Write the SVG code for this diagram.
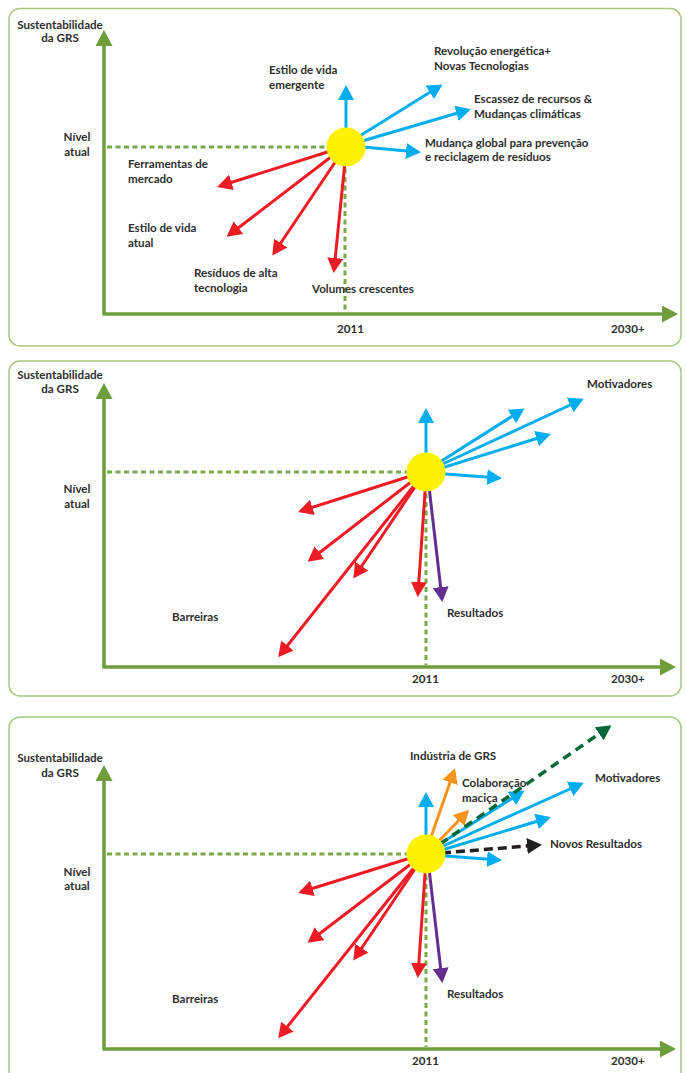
<svg xmlns="http://www.w3.org/2000/svg" width="686" height="1073" viewBox="0 0 686 1073">
  <style>
    .frame { fill: #ffffff; stroke: #a6c97e; stroke-width: 1.5; }
    .axis { stroke: #6e9e3b; stroke-width: 3.5; fill: none; }
    .guide { stroke: #78aa45; stroke-width: 3; stroke-dasharray: 5 3.5; fill: none; }
    .lbl { font-family: Lato, "Open Sans", "Liberation Sans", sans-serif; font-weight: bold; font-size: 11.6px; fill: #2e2e2e; }
    .mid { text-anchor: middle; }
    .hub { fill: #fff200; }
    .red { stroke: #ed1c24; stroke-width: 3; marker-end: url(#ah-red); }
    .blue { stroke: #00aeef; stroke-width: 3; marker-end: url(#ah-blue); }
    .purple { stroke: #662d91; stroke-width: 3; marker-end: url(#ah-purple); }
    .orange { stroke: #f7941d; stroke-width: 3; marker-end: url(#ah-orange); }
    .dkgreen { stroke: #006838; stroke-width: 3.5; stroke-dasharray: 9 6; marker-end: url(#ah-dkgreen); }
    .black { stroke: #231f20; stroke-width: 3.5; stroke-dasharray: 9 5; marker-end: url(#ah-black); }
  </style>
  <defs>
    <marker id="ah-axis" viewBox="0 0 16 17" markerWidth="16" markerHeight="17" refX="12" refY="8.5" orient="auto" markerUnits="userSpaceOnUse"><path d="M0,0 L16,8.5 L0,17 z" fill="#6e9e3b"/></marker>
    <marker id="ah-red" viewBox="0 0 15 16" markerWidth="15" markerHeight="16" refX="12" refY="8" orient="auto" markerUnits="userSpaceOnUse"><path d="M0,0 L15,8 L0,16 z" fill="#ed1c24"/></marker>
    <marker id="ah-blue" viewBox="0 0 15 16" markerWidth="15" markerHeight="16" refX="12" refY="8" orient="auto" markerUnits="userSpaceOnUse"><path d="M0,0 L15,8 L0,16 z" fill="#00aeef"/></marker>
    <marker id="ah-purple" viewBox="0 0 15 16" markerWidth="15" markerHeight="16" refX="12" refY="8" orient="auto" markerUnits="userSpaceOnUse"><path d="M0,0 L15,8 L0,16 z" fill="#662d91"/></marker>
    <marker id="ah-orange" viewBox="0 0 15 16" markerWidth="15" markerHeight="16" refX="12" refY="8" orient="auto" markerUnits="userSpaceOnUse"><path d="M0,0 L15,8 L0,16 z" fill="#f7941d"/></marker>
    <marker id="ah-dkgreen" viewBox="0 0 15 16" markerWidth="15" markerHeight="16" refX="12" refY="8" orient="auto" markerUnits="userSpaceOnUse"><path d="M0,0 L15,8 L0,16 z" fill="#006838"/></marker>
    <marker id="ah-black" viewBox="0 0 15 16" markerWidth="15" markerHeight="16" refX="12" refY="8" orient="auto" markerUnits="userSpaceOnUse"><path d="M0,0 L15,8 L0,16 z" fill="#231f20"/></marker>
  </defs>

  <!-- ===== Chart 1: current state ===== -->
  <g id="chart1">
    <rect class="frame" x="9" y="8.5" width="672" height="337.5" rx="11"/>
    <g id="chart1-axes">
      <line class="axis" x1="104" y1="314" x2="104" y2="34" marker-end="url(#ah-axis)"/>
      <line class="axis" x1="102.5" y1="314" x2="674" y2="314" marker-end="url(#ah-axis)"/>
      <line class="guide" x1="107" y1="147" x2="330" y2="147"/>
      <line class="guide" x1="345" y1="160" x2="345" y2="312"/>
    </g>
    <g id="chart1-connectors">
      <line class="blue" x1="346" y1="140" x2="346" y2="88"/>
      <line class="blue" x1="350" y1="142" x2="440" y2="86"/>
      <line class="blue" x1="352" y1="144" x2="468" y2="110"/>
      <line class="blue" x1="352" y1="146" x2="418" y2="152"/>
      <line class="red" x1="340" y1="148" x2="220" y2="186"/>
      <line class="red" x1="340" y1="150" x2="229" y2="235"/>
      <line class="red" x1="342" y1="152" x2="274" y2="253"/>
      <line class="red" x1="346" y1="152" x2="334" y2="270"/>
    </g>
    <g id="chart1-hub"><circle class="hub" cx="346" cy="147" r="19.5"/></g>
    <g id="chart1-labels">
      <text class="lbl mid" x="60" y="29">Sustentabilidade</text>
      <text class="lbl mid" x="60" y="42">da GRS</text>
      <text class="lbl mid" x="77" y="141">Nível</text>
      <text class="lbl mid" x="77" y="156">atual</text>
      <text class="lbl" x="269" y="74">Estilo de vida</text>
      <text class="lbl" x="269" y="89">emergente</text>
      <text class="lbl" x="434" y="55">Revolução energética+</text>
      <text class="lbl" x="434" y="70">Novas Tecnologias</text>
      <text class="lbl" x="474" y="103">Escassez de recursos &amp;</text>
      <text class="lbl" x="474" y="118">Mudanças climáticas</text>
      <text class="lbl" x="425" y="147">Mudança global para prevenção</text>
      <text class="lbl" x="425" y="161">e reciclagem de resíduos</text>
      <text class="lbl" x="128" y="168">Ferramentas de</text>
      <text class="lbl" x="128" y="183">mercado</text>
      <text class="lbl" x="128" y="232">Estilo de vida</text>
      <text class="lbl" x="128" y="247">atual</text>
      <text class="lbl" x="194" y="277">Resíduos de alta</text>
      <text class="lbl" x="194" y="292">tecnologia</text>
      <text class="lbl" x="312" y="293">Volumes crescentes</text>
      <text class="lbl" x="337" y="333">2011</text>
      <text class="lbl" x="611" y="333">2030+</text>
    </g>
  </g>

  <!-- ===== Chart 2: drivers, barriers, results ===== -->
  <g id="chart2">
    <rect class="frame" x="9" y="361" width="672" height="335" rx="11"/>
    <g id="chart2-axes">
      <line class="axis" x1="104" y1="667" x2="104" y2="387" marker-end="url(#ah-axis)"/>
      <line class="axis" x1="102.5" y1="667" x2="672" y2="667" marker-end="url(#ah-axis)"/>
      <line class="guide" x1="107" y1="472" x2="410" y2="472"/>
      <line class="guide" x1="426" y1="485" x2="426" y2="665"/>
    </g>
    <g id="chart2-connectors">
      <line class="blue" x1="426" y1="465" x2="426" y2="411"/>
      <line class="blue" x1="432" y1="467" x2="522" y2="410"/>
      <line class="blue" x1="432" y1="469" x2="581" y2="400"/>
      <line class="blue" x1="432" y1="471" x2="548" y2="435"/>
      <line class="blue" x1="432" y1="473" x2="499" y2="478"/>
      <line class="red" x1="420" y1="473" x2="301" y2="511"/>
      <line class="red" x1="420" y1="475" x2="310" y2="560"/>
      <line class="red" x1="421" y1="478" x2="355" y2="576"/>
      <line class="red" x1="420" y1="478" x2="280" y2="655"/>
      <line class="red" x1="426" y1="478" x2="418" y2="594"/>
      <line class="purple" x1="428" y1="478" x2="442" y2="599"/>
    </g>
    <g id="chart2-hub"><circle class="hub" cx="426" cy="472" r="19.5"/></g>
    <g id="chart2-labels">
      <text class="lbl mid" x="60" y="379">Sustentabilidade</text>
      <text class="lbl mid" x="60" y="393">da GRS</text>
      <text class="lbl mid" x="77" y="493">Nível</text>
      <text class="lbl mid" x="77" y="508">atual</text>
      <text class="lbl" x="172" y="621">Barreiras</text>
      <text class="lbl" x="587" y="388">Motivadores</text>
      <text class="lbl" x="447" y="617">Resultados</text>
      <text class="lbl" x="412" y="683">2011</text>
      <text class="lbl" x="611" y="683">2030+</text>
    </g>
  </g>

  <!-- ===== Chart 3: GRS industry and mass collaboration ===== -->
  <g id="chart3">
    <rect class="frame" x="9" y="717" width="672" height="370" rx="11"/>
    <g id="chart3-axes">
      <line class="axis" x1="104" y1="1049" x2="104" y2="769" marker-end="url(#ah-axis)"/>
      <line class="axis" x1="102.5" y1="1049" x2="672" y2="1049" marker-end="url(#ah-axis)"/>
      <line class="guide" x1="107" y1="854" x2="410" y2="854"/>
      <line class="guide" x1="426" y1="867" x2="426" y2="1047"/>
    </g>
    <g id="chart3-connectors">
      <line class="blue" x1="426" y1="847" x2="426" y2="795"/>
      <line class="blue" x1="432" y1="849" x2="522" y2="792"/>
      <line class="blue" x1="432" y1="851" x2="581" y2="784"/>
      <line class="blue" x1="432" y1="853" x2="548" y2="818"/>
      <line class="blue" x1="432" y1="855" x2="499" y2="860"/>
      <line class="orange" x1="430" y1="840" x2="454" y2="771"/>
      <line class="orange" x1="436" y1="844" x2="467" y2="812"/>
      <line class="dkgreen" x1="440" y1="844" x2="609" y2="727"/>
      <line class="black" x1="442" y1="853" x2="539" y2="845"/>
      <line class="red" x1="420" y1="855" x2="301" y2="892"/>
      <line class="red" x1="420" y1="857" x2="310" y2="941"/>
      <line class="red" x1="421" y1="860" x2="355" y2="958"/>
      <line class="red" x1="420" y1="860" x2="280" y2="1036"/>
      <line class="red" x1="426" y1="860" x2="418" y2="975"/>
      <line class="purple" x1="428" y1="860" x2="442" y2="980"/>
    </g>
    <g id="chart3-hub"><circle class="hub" cx="426" cy="854" r="19.5"/></g>
    <g id="chart3-labels">
      <text class="lbl mid" x="60" y="762">Sustentabilidade</text>
      <text class="lbl mid" x="60" y="777">da GRS</text>
      <text class="lbl mid" x="77" y="876">Nível</text>
      <text class="lbl mid" x="77" y="890">atual</text>
      <text class="lbl" x="172" y="1003">Barreiras</text>
      <text class="lbl" x="410" y="760">Indústria de GRS</text>
      <text class="lbl" x="462" y="787">Colaboração</text>
      <text class="lbl" x="462" y="802">maciça</text>
      <text class="lbl" x="595" y="782">Motivadores</text>
      <text class="lbl" x="550" y="848">Novos Resultados</text>
      <text class="lbl" x="447" y="998">Resultados</text>
      <text class="lbl" x="412" y="1065">2011</text>
      <text class="lbl" x="611" y="1065">2030+</text>
    </g>
  </g>
</svg>
